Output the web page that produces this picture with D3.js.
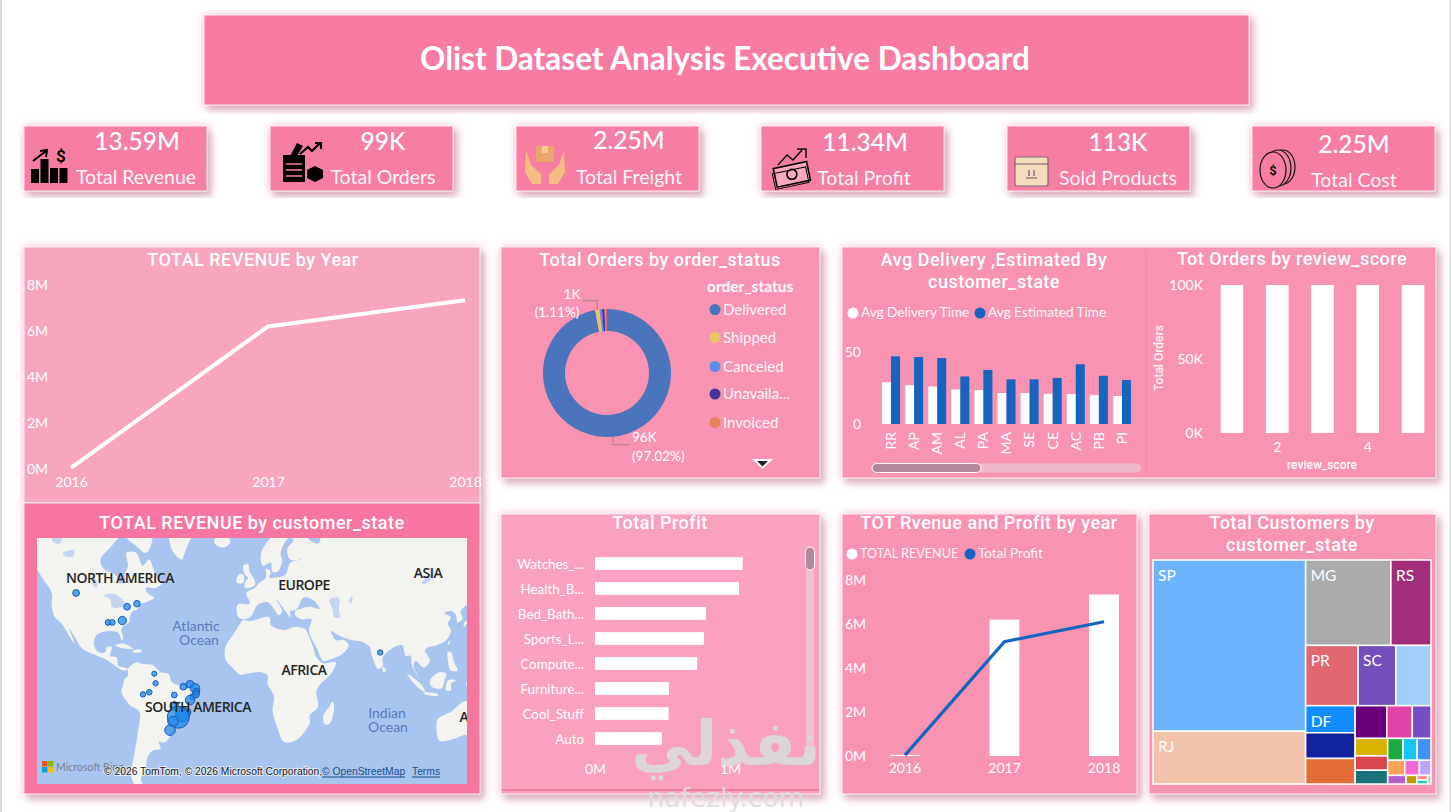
<!DOCTYPE html>
<html>
<head>
<meta charset="utf-8">
<title>Olist Dataset Analysis Executive Dashboard</title>
<script src="https://cdnjs.cloudflare.com/ajax/libs/d3/7.8.5/d3.min.js"></script>
<style>
  html, body { margin: 0; padding: 0; background: #fff; overflow: hidden; }
  svg { display: block; }
  text { font-family: "Roboto", "Noto Sans", sans-serif; fill: #fff; }
  .seg { font-family: "Lato", "Noto Sans", sans-serif; }
  .axis text { fill: #fff; font-family: "Lato", sans-serif; font-size: 14px; }
  .title { font-weight: 500; font-size: 18px; letter-spacing: 0.5px; text-anchor: middle; fill: #fff; }
</style>
</head>
<body>
<svg id="chart" width="1451" height="812"></svg>
<script>
'use strict';

// KPI cards.
var kpiValues = ['13.59M', '99K', '2.25M', '11.34M', '113K', '2.25M'];
var kpiLabels = ['Total Revenue', 'Total Orders', 'Total Freight', 'Total Profit', 'Sold Products', 'Total Cost'];

// Revenue / profit by year, in millions.
var years = ['2016', '2017', '2018'];
var revenueByYear = [0.05, 6.2, 7.34];
var profitByYear = [0.04, 5.2, 6.1];

// Orders by status.
var statusNames = ['Delivered', 'Shipped', 'Canceled', 'Unavailable', 'Invoiced', 'Processing'];
var statusOrders = [96478, 1107, 625, 609, 314, 308];
var statusColors = ['#4a74bb', '#e8c46b', '#5b8fe8', '#47339a', '#e8825a', '#d9647c'];

// Delivery times per state, in days.
var deliveryStates = ['RR', 'AP', 'AM', 'AL', 'PA', 'MA', 'SE', 'CE', 'AC', 'PB', 'PI'];
var avgDelivery = [29, 27, 26, 24, 23.5, 21.5, 21.5, 21, 20.8, 20, 19.5];
var avgEstimated = [47, 46.5, 45.8, 33, 37.5, 31, 31, 32, 41.5, 33.5, 30.5];

// Orders by review score, in thousands.
var reviewScores = [1, 2, 3, 4, 5];
var reviewOrders = [100, 100, 100, 100, 100];

// Profit by category, in millions.
var profitCategories = ['Watches_...', 'Health_B...', 'Bed_Bath...', 'Sports_L...', 'Compute...', 'Furniture...', 'Cool_Stuff', 'Auto'];
var profitValues = [1.094, 1.067, 0.822, 0.807, 0.757, 0.548, 0.545, 0.495];

// Customers per state, nested the way the treemap splits them.
var treeLeft = [['SP', 41746, '#6cb5fe'], ['RJ', 12852, '#f2c2aa']];
var treeRow1 = [['MG', 11635, '#ababab'], ['RS', 5466, '#a22e7b']];
var treeRow2 = [['PR', 5045, '#e06672'], ['SC', 3637, '#7350bc'], ['BA', 3380, '#a0cffe']];
var treeCol3 = [['DF', 2140, '#118dff'], ['ES', 2033, '#12239e'], ['GO', 2020, '#e66c37']];
var treeTop4 = [['PE', 1652, '#6b007b'], ['CE', 1336, '#e044a7'], ['PA', 975, '#744ec2']];
var treeCol5 = [['MT', 907, '#d9b300'], ['MA', 747, '#d64550'], ['MS', 715, '#197278']];
var treeRow6 = [['PB', 536, '#1aab40'], ['PI', 495, '#15c6f4'], ['RN', 485, '#4092ff']];
var treeRow7 = [['AL', 413, '#ffa058'], ['SE', 350, '#f266d6'], ['TO', 280, '#b5a6f8']];
var treeRow8 = [['RO', 253, '#b85cd0'], ['AM', 148, '#c0a000']];
var treeTiny = [['AC', 81, '#ff8a8a'], ['AP', 68, '#20d0b0']];
var treeLast = [['RR', 46, '#80e0a0']];
var treeLabels = ['SP', 'RJ', 'MG', 'RS', 'PR', 'SC', 'DF'];

// Revenue bubbles: lon, lat, revenue in millions.
var bubbleLon = [-109, -77.6, -71.5, -89.3, -86.7, -80.5, 78.4, -60.8, -60, -63.9, -67.8, -48.5, -42.9, -38.8, -35.7, -35, -35.2, -37.2, -38.8, -48.5, -40.5, -43.6, -43.2, -46, -49.3, -51.1];
var bubbleLat = [48, 42, 43.4, 34.4, 34.4, 35.4, 17.9, 5.1, -0.8, -6.3, -7.6, -8, -2.9, -1.4, -3.9, -6, -7.5, -9, -11.1, -14.6, -18.2, -19.2, -20.5, -21.2, -23.6, -28.4];
var bubbleRev = [0.12, 0.12, 0.1, 0.05, 0.05, 0.3, 0.03, 0.02, 0.03, 0.04, 0.03, 0.05, 0.12, 0.22, 0.5, 0.14, 0.16, 0.07, 0.5, 0.35, 0.2, 1.6, 1.1, 5.2, 0.65, 0.7];

// Rough coastlines in lon/lat.
var landShapes = [
  [[-168,66],[-162,70],[-156,71],[-141,70],[-128,70],[-115,68],[-108,68],[-96,68],[-94,72],[-85,69],[-82,67],[-87,64],[-94,60],[-92,57],[-85,55],[-82,52],[-79,52],[-79,55],[-77,58],[-78,62],[-72,62],[-68,58],[-64,60],[-60,55],[-56,52],[-60,50],[-66,50],[-65,48],[-61,46],[-66,44],[-70,43],[-71,41],[-74,40],[-76,37],[-76,35],[-81,31],[-80,26],[-81,25],[-83,29],[-89,30],[-94,29],[-97,27],[-98,22],[-95,18],[-91,18],[-90,21],[-87,21],[-88,16],[-84,15],[-83,10],[-80,9],[-77,8],[-80,7],[-85,10],[-91,14],[-96,16],[-105,20],[-110,27],[-113,31],[-110,23],[-115,30],[-118,34],[-122,37],[-124,42],[-124,48],[-130,54],[-135,58],[-145,60],[-152,59],[-160,55],[-165,55],[-158,59],[-165,62]],
  [[-80,73],[-68,70],[-62,66],[-66,62],[-72,64],[-78,66],[-85,70]],
  [[-44,60],[-49,62],[-52,66],[-55,72],[-40,83],[-20,80],[-22,72],[-38,66],[-42,62]],
  [[-24,65],[-22,64],[-18,63.5],[-14,65],[-16,66.5],[-22,66.5]],
  [[-5,50],[1,51],[1,53],[-2,56],[-3,58.5],[-6,58],[-5,55],[-3,54],[-5,52]],
  [[-10,52],[-6,52],[-6,55],[-9,55]],
  [[-85,22],[-80,23],[-74,20],[-78,20]],
  [[-74,19],[-69,19.5],[-68.5,18.3],[-74,18]],
  [[-77,8],[-72,12],[-68,11],[-62,10.5],[-57,6],[-52,5],[-50,0],[-44,-2.5],[-38,-4],[-35,-6],[-35,-9],[-39,-14],[-39,-18],[-41,-22],[-46,-24],[-48.5,-27],[-52,-33],[-55,-35],[-58,-34.5],[-57,-38],[-62,-39],[-65,-42],[-66,-46],[-69,-51],[-68,-54],[-72,-54],[-75,-50],[-73,-40],[-71,-30],[-70,-18],[-76,-14],[-81,-6],[-80,-2],[-79,2],[-77,4]],
  [[-6,35.5],[-2,35],[10,37],[11,33],[19,30.5],[25,32],[32,31],[34,28],[37,21],[39,15],[43,11.5],[51,12],[48,5],[41,-2],[39,-6],[40,-15],[35,-20],[35,-24],[32,-29],[26,-34],[19,-34.5],[15,-27],[12,-17],[13,-9],[9,-1],[9,4],[5,6],[-4,5],[-8,4.5],[-13,9],[-17,14],[-17,21],[-13,27],[-10,31]],
  [[49,-12],[50,-16],[47,-25],[44,-25],[43.5,-20],[47,-15]],
  [[-9,37],[-9.5,43],[-2,43.5],[-4,48],[1,50],[4,52],[8,54],[8,57],[11,56],[10,54],[14,54],[20,55],[23,59],[30,60],[23,60],[21,63],[25,65.5],[22,66],[17,62],[18,59.5],[15,56],[12,56],[11,59],[6,58],[5,62],[13,67],[25,71],[40,67],[33,66.5],[40,64.5],[44,68],[60,69],[68,68],[70,73],[80,73],[105,77],[130,71],[150,70],[150,60],[140,55],[140,48],[132,43],[128,40],[129,36],[126,34.5],[125,38],[122,40],[118,39],[122,37],[120,34],[122,30],[119,25],[113,22],[108,21],[106,19],[109,13],[105,9],[100,13],[99,9],[103,2],[100,6],[98,10],[97,16],[94,16],[92,22],[87,21],[80,15],[80,10],[77,8],[73,17],[72,21],[67,24],[61,25],[57,26],[52,28],[48,30],[51,25],[56,25],[59,22],[55,17],[45,13],[43,13],[39,21],[35,28],[34.5,31],[36,36],[30,36],[26,38],[26,40],[29,41],[35,42],[41,41],[37,45],[31,46],[28,42],[26,40.5],[23,40],[23,37],[20,40],[14,45.5],[18,40],[16,38],[12,42],[9,44],[3,43],[0,39],[-2,37],[-5,36]],
  [[95,5],[104,-2],[106,-6],[101,-3]],
  [[105,-6.5],[114,-7.5],[114,-8.5],[106,-7.5]],
  [[109,1],[115,6],[119,5],[118,1],[116,-4],[110,-3]],
  [[120,1],[125,1],[122,-1],[122,-5],[119,-5]],
  [[120,18],[122,18],[124,12],[126,7],[122,7],[120,14]],
  [[131,-1],[141,-3],[147,-6],[150,-10],[143,-9],[138,-8],[133,-4]],
  [[130,32],[132,34],[136,35],[140,36],[141,41],[145,44],[142,45],[139,38],[133,36],[130,34]],
  [[80,9.5],[82,7],[80.5,6],[79.8,8]],
  [[121,25],[121,22],[120,23]],
  [[114,-22],[122,-18],[130,-12],[136,-12],[136,-15],[140,-17],[142,-11],[146,-19],[153,-26],[150,-37],[144,-38],[138,-35],[131,-31],[124,-33],[115,-34],[113,-26]]
];
var waterShapes = [
  [[-92,47],[-85,47.5],[-80,45],[-79,43],[-83,41.5],[-87,42],[-88,45]],
  [[47,45],[53,46],[53,40],[54,37],[50,37],[49,41]],
  [[-124,66],[-118,66],[-119,64.5],[-123,65]],
  [[-117,62],[-110,62.8],[-111,61],[-116,61]],
  [[-99,53.5],[-97,53.5],[-96,50.5],[-98,50.5]],
  [[104,52],[110,55.5],[109,53],[105,51.5]],
  [[60,46],[61,46.5],[61,44],[59,44]]
];

var svg = d3.select('#chart');
var defs = svg.append('defs');

// Pink glow and a grey drop shadow behind every tile.
var glow = defs.append('filter').attr('id', 'tile')
  .attr('x', '-10%').attr('y', '-10%').attr('width', '120%').attr('height', '120%');
glow.append('feDropShadow').attr('dx', 4).attr('dy', 5).attr('stdDeviation', 3)
  .attr('flood-color', '#a8808f').attr('flood-opacity', 0.45).attr('result', 'a');
glow.append('feDropShadow').attr('in', 'a').attr('dx', 0).attr('dy', 0).attr('stdDeviation', 4)
  .attr('flood-color', '#fbb4cb').attr('flood-opacity', 0.9);

function tile(x, y, w, h, fill) {
  svg.append('rect').attr('x', x).attr('y', y).attr('width', w).attr('height', h)
    .attr('fill', fill).attr('stroke', '#fff').attr('stroke-opacity', 0.8)
    .attr('filter', 'url(#tile)');
}

function title(x, y, txt) {
  svg.append('text').attr('class', 'title').attr('x', x).attr('y', y)
    .attr('dominant-baseline', 'central').text(txt);
}

function cleanAxis(g) {
  g.select('.domain').remove();
  g.selectAll('.tick line').remove();
}

function legendDot(x, y, color, label, size) {
  svg.append('circle').attr('cx', x).attr('cy', y).attr('r', 5.5).attr('fill', color);
  svg.append('text').attr('class', 'seg').attr('x', x + 8).attr('y', y - 1)
    .attr('dominant-baseline', 'central').style('font-size', size + 'px')
    .attr('fill-opacity', 0.95).text(label);
}

// Outer frame edges of the screenshot.
svg.append('rect').attr('x', 0).attr('y', 0).attr('width', 2).attr('height', 812).attr('fill', '#d9d9d9');
svg.append('rect').attr('x', 1449).attr('y', 0).attr('width', 2).attr('height', 812).attr('fill', '#e6e6e6');

/* Header */
tile(204, 15, 1045, 90, '#f87ba2');
svg.append('text').attr('x', 725).attr('y', 58).attr('text-anchor', 'middle')
  .attr('dominant-baseline', 'central')
  .style('font-size', '31.5px').style('font-weight', 700)
  .attr('class', 'seg').text('Olist Dataset Analysis Executive Dashboard');

/* KPI cards */
var kpiX = [24, 270, 516, 761, 1007, 1252];
var kpiValueY = [140, 140, 139, 141, 141, 143];
var kpiLabelY = [176, 176, 176, 177, 177, 179];
var kpiValueX = [137, 383, 629, 865, 1118, 1354];
var kpiLabelX = [136, 383, 629, 864, 1118, 1354];
kpiX.forEach(function(x, i) {
  tile(x, 126, 183, 65, '#f77ea3');
  svg.append('text').attr('x', kpiValueX[i]).attr('y', kpiValueY[i]).attr('text-anchor', 'middle')
    .attr('dominant-baseline', 'central').attr('class', 'seg')
    .style('font-size', '24.5px').style('font-weight', 500).text(kpiValues[i]);
  svg.append('text').attr('x', kpiLabelX[i]).attr('y', kpiLabelY[i]).attr('text-anchor', 'middle')
    .attr('dominant-baseline', 'central').attr('class', 'seg')
    .style('font-size', '19.5px').attr('fill-opacity', 0.95).text(kpiLabels[i]);
});
drawIcons();

/* Revenue by year */
tile(24, 247, 456, 256, '#f8a5be');
title(253, 259, 'TOTAL REVENUE by Year');
var lineX = d3.scalePoint().domain(years).range([71, 465]);
var lineY = d3.scaleLinear().domain([0, 8]).range([469, 285]);
svg.append('g').attr('class', 'axis').attr('transform', 'translate(49,0)')
  .call(d3.axisLeft(lineY).tickValues([0, 2, 4, 6, 8]).tickSize(0).tickPadding(1)
    .tickFormat(function(d) { return d + 'M'; }))
  .call(cleanAxis);
svg.append('g').attr('class', 'axis').attr('transform', 'translate(0,477)')
  .call(d3.axisBottom(lineX).tickSize(0).tickPadding(0))
  .call(cleanAxis);
svg.append('path').datum(revenueByYear)
  .attr('fill', 'none').attr('stroke', '#fff').attr('stroke-width', 4)
  .attr('d', d3.line()
    .x(function(d, i) { return lineX(years[i]); })
    .y(function(d) { return lineY(d); }));

/* Revenue map */
tile(24, 503, 456, 291, '#f6769f');
title(252, 522, 'TOTAL REVENUE by customer_state');
defs.append('clipPath').attr('id', 'mapClip').append('rect')
  .attr('x', 37).attr('y', 538).attr('width', 430).attr('height', 246);
var map = svg.append('g').attr('clip-path', 'url(#mapClip)');
map.append('rect').attr('x', 37).attr('y', 538).attr('width', 430).attr('height', 246).attr('fill', '#a9c5ef');
var projection = d3.geoMercator().scale(93).translate([253, 682]);
var coast = d3.line()
  .x(function(d) { return projection(d)[0]; })
  .y(function(d) { return projection(d)[1]; })
  .curve(d3.curveCatmullRomClosed.alpha(0.5));
map.selectAll('path.land').data(landShapes).enter().append('path')
  .attr('class', 'land').attr('d', coast).attr('fill', '#f3f3ef');
map.selectAll('path.water').data(waterShapes).enter().append('path')
  .attr('class', 'water').attr('d', coast).attr('fill', '#c3d5f1');
var bubbleR = d3.scaleSqrt().domain([0, 5.2]).range([2, 11]);
map.selectAll('circle.bubble').data(bubbleRev).enter().append('circle')
  .attr('class', 'bubble')
  .attr('cx', function(d, i) { return projection([bubbleLon[i], bubbleLat[i]])[0]; })
  .attr('cy', function(d, i) { return projection([bubbleLon[i], bubbleLat[i]])[1]; })
  .attr('r', function(d) { return bubbleR(d); })
  .attr('fill', '#1e88ee').attr('fill-opacity', 0.75)
  .attr('stroke', '#1a5fb0').attr('stroke-width', 1);
var placeNames = [['NORTH AMERICA', 120, 577], ['EUROPE', 304, 584], ['ASIA', 428, 572], ['AFRICA', 304, 669], ['SOUTH AMERICA', 198, 706], ['A', 464, 716]];
placeNames.forEach(function(p) {
  map.append('text').attr('x', p[1]).attr('y', p[2]).attr('text-anchor', 'middle')
    .attr('dominant-baseline', 'central').style('fill', '#262626').style('font-weight', 600)
    .style('font-family', 'Open Sans').style('font-size', '14px').style('letter-spacing', '-0.5px').text(p[0]);
});
// Two-line ocean names.
var oceanNames = [['Atlantic', 'Ocean', 196, 199, 631], ['Indian', 'Ocean', 387, 388, 718]];
oceanNames.forEach(function(p) {
  var t = map.append('text').attr('class', 'seg').attr('text-anchor', 'middle')
    .style('fill', '#5d78bd').style('font-size', '14px');
  t.append('tspan').attr('x', p[2]).attr('y', p[4]).text(p[0]);
  t.append('tspan').attr('x', p[3]).attr('y', p[4] + 14).text(p[1]);
});
var msColors = ['#f25022', '#7fba00', '#00a4ef', '#ffb900'];
d3.range(4).forEach(function(i) {
  map.append('rect').attr('x', 42 + (i % 2) * 6).attr('y', 761 + (i > 1 ? 6 : 0))
    .attr('width', 5.5).attr('height', 5.5).attr('fill', msColors[i]);
});
map.append('text').attr('class', 'seg').attr('x', 56).attr('y', 767).attr('dominant-baseline', 'central')
  .style('fill', '#77808c').style('font-size', '10.5px').text('Microsoft Bing');
map.append('text').attr('x', 104).attr('y', 771).attr('dominant-baseline', 'central')
  .style('fill', '#222').style('font-size', '10.3px').style('font-family', 'Liberation Sans')
  .style('paint-order', 'stroke').style('stroke', 'rgba(255,255,255,0.6)').style('stroke-width', '2px')
  .text('© 2026 TomTom, © 2026 Microsoft Corporation, ');
map.append('text').attr('x', 322).attr('y', 771).attr('dominant-baseline', 'central')
  .style('fill', '#1c4f8c').style('font-size', '10.3px').style('font-family', 'Liberation Sans')
  .style('text-decoration', 'underline').text('© OpenStreetMap');
map.append('text').attr('x', 412).attr('y', 771).attr('dominant-baseline', 'central')
  .style('fill', '#1c4f8c').style('font-size', '10.3px').style('font-family', 'Liberation Sans')
  .style('text-decoration', 'underline').text('Terms');

/* Orders by status */
tile(501, 247, 319, 231, '#f893b2');
title(660, 259, 'Total Orders by order_status');
var donut = svg.append('g').attr('transform', 'translate(607,373)');
var pie = d3.pie().sort(null)(statusOrders);
var arc = d3.arc().innerRadius(42).outerRadius(64);
donut.selectAll('path').data(pie).enter().append('path')
  .attr('d', arc)
  .attr('fill', function(d, i) { return statusColors[i]; });
function leader(slice, dx, dy) {
  var a = (slice.startAngle + slice.endAngle) / 2;
  var px = Math.sin(a) * 64;
  var py = -Math.cos(a) * 64;
  donut.append('path').attr('fill', 'none').attr('stroke', '#a3808f').attr('stroke-width', 1)
    .attr('d', d3.line()([[px, py], [px, py + dy], [px + dx, py + dy]]));
}
leader(pie[0], 16, 8);
leader(pie[1], -15, -9);
var donutLabels = [['1K', 572, 294, 'middle'], ['(1.11%)', 557, 312, 'middle'], ['96K', 632, 437, 'start'], ['(97.02%)', 632, 456, 'start']];
donutLabels.forEach(function(p) {
  svg.append('text').attr('class', 'seg').attr('x', p[1]).attr('y', p[2]).attr('text-anchor', p[3])
    .attr('dominant-baseline', 'central').style('font-size', '13.5px').text(p[0]);
});
svg.append('text').attr('class', 'seg').attr('x', 707).attr('y', 285.5).attr('dominant-baseline', 'central')
  .style('font-size', '15.5px').style('font-weight', 700).text('order_status');
var legendY = [309.5, 337.5, 366.5, 394, 422.5];
var legendNames = ['Delivered', 'Shipped', 'Canceled', 'Unavaila...', 'Invoiced'];
legendNames.forEach(function(n, i) {
  legendDot(715, legendY[i], statusColors[i], n, 15);
});
svg.append('path').attr('d', 'M752,459L773,459L762.5,469Z').attr('fill', '#fff');
svg.append('path').attr('d', 'M757,461L768,461L762.5,466.5Z').attr('fill', '#222');

/* Delivery and review panel */
tile(842, 247, 594, 231, '#f893b2');
svg.append('line').attr('x1', 1146).attr('x2', 1146).attr('y1', 250).attr('y2', 475)
  .attr('stroke', '#f483a8').attr('stroke-width', 1);
title(994, 259, 'Avg Delivery ,Estimated By');
title(994, 281, 'customer_state');
legendDot(853, 313, '#fff', 'Avg Delivery Time', 13.6);
legendDot(980, 313, '#1565c0', 'Avg Estimated Time', 13.6);
var delX = d3.scaleBand().domain(deliveryStates).range([879.5, 1133.5]).paddingInner(0.22).paddingOuter(0.11);
var delInner = d3.scaleBand().domain([0, 1]).range([0, delX.bandwidth()]);
var delY = d3.scaleLinear().domain([0, 50]).range([424, 352]);
svg.append('g').attr('class', 'axis').attr('transform', 'translate(863,0)')
  .call(d3.axisLeft(delY).tickValues([0, 50]).tickSize(0).tickPadding(2))
  .call(cleanAxis);
svg.append('g').attr('class', 'axis').attr('transform', 'translate(0,432)')
  .call(d3.axisBottom(delX).tickSize(0).tickPadding(0))
  .call(cleanAxis)
  .selectAll('text')
  .attr('transform', 'rotate(-90)')
  .attr('text-anchor', 'end')
  .attr('x', 0).attr('y', 0).attr('dy', '0.35em');
svg.selectAll('rect.del').data(avgDelivery).enter().append('rect')
  .attr('class', 'del')
  .attr('x', function(d, i) { return delX(deliveryStates[i]) + delInner(0); })
  .attr('y', function(d) { return delY(d); })
  .attr('width', delInner.bandwidth())
  .attr('height', function(d) { return delY(0) - delY(d); })
  .attr('fill', '#fff');
svg.selectAll('rect.est').data(avgEstimated).enter().append('rect')
  .attr('class', 'est')
  .attr('x', function(d, i) { return delX(deliveryStates[i]) + delInner(1); })
  .attr('y', function(d) { return delY(d); })
  .attr('width', delInner.bandwidth())
  .attr('height', function(d) { return delY(0) - delY(d); })
  .attr('fill', '#1565c0');
svg.append('rect').attr('x', 872).attr('y', 463.5).attr('width', 269).attr('height', 9).attr('rx', 4.5)
  .attr('fill', '#efb9cb');
svg.append('rect').attr('x', 872).attr('y', 463.5).attr('width', 109).attr('height', 9).attr('rx', 4.5)
  .attr('fill', '#b4869a').attr('stroke', '#fff').attr('stroke-width', 1);

title(1292, 258, 'Tot Orders by review_score');
var revX = d3.scaleBand().domain(reviewScores).range([1198, 1447]).padding(0.5);
var revY = d3.scaleLinear().domain([0, 100]).range([433, 285]);
svg.append('g').attr('class', 'axis').attr('transform', 'translate(1204,0)')
  .call(d3.axisLeft(revY).tickValues([0, 50, 100]).tickSize(0).tickPadding(1)
    .tickFormat(function(d) { return d + 'K'; }))
  .call(cleanAxis);
svg.append('g').attr('class', 'axis').attr('transform', 'translate(0,442)')
  .call(d3.axisBottom(revX).tickValues([2, 4]).tickSize(0).tickPadding(0))
  .call(cleanAxis);
svg.selectAll('rect.rev').data(reviewOrders).enter().append('rect')
  .attr('class', 'rev')
  .attr('x', function(d, i) { return revX(reviewScores[i]); })
  .attr('y', function(d) { return revY(d); })
  .attr('width', revX.bandwidth())
  .attr('height', function(d) { return revY(0) - revY(d); })
  .attr('fill', '#fff');
svg.append('text').attr('text-anchor', 'middle').attr('dominant-baseline', 'central')
  .attr('transform', 'translate(1159,358) rotate(-90)')
  .style('font-size', '12px').style('font-weight', 500).attr('fill-opacity', 0.9).text('Total Orders');
svg.append('text').attr('x', 1322).attr('y', 465).attr('text-anchor', 'middle').attr('dominant-baseline', 'central')
  .style('font-size', '12px').style('font-weight', 500).attr('fill-opacity', 0.95).text('review_score');

/* Profit by category */
tile(501, 514, 319, 280, '#f9a1bd');
svg.append('rect').attr('x', 502).attr('y', 789).attr('width', 317).attr('height', 2).attr('fill', '#f67ea3');
title(660, 522, 'Total Profit');
var profX = d3.scaleLinear().domain([0, 1]).range([595, 730]);
var profY = d3.scaleBand().domain(profitCategories).range([551, 751]).paddingInner(0.49).paddingOuter(0.245);
svg.append('g').attr('class', 'axis').attr('transform', 'translate(0,764)')
  .call(d3.axisBottom(profX).tickValues([0, 1]).tickSize(0).tickPadding(0)
    .tickFormat(function(d) { return d + 'M'; }))
  .call(cleanAxis);
svg.append('g').attr('class', 'axis').attr('transform', 'translate(585,1)')
  .call(d3.axisLeft(profY).tickSize(0).tickPadding(1))
  .call(cleanAxis)
  .selectAll('text').style('font-size', '13.4px');
svg.selectAll('rect.prof').data(profitValues).enter().append('rect')
  .attr('class', 'prof')
  .attr('x', profX(0))
  .attr('y', function(d, i) { return profY(profitCategories[i]); })
  .attr('width', function(d) { return profX(d) - profX(0); })
  .attr('height', profY.bandwidth())
  .attr('fill', '#fff');
svg.append('rect').attr('x', 806).attr('y', 547).attr('width', 8).attr('height', 215).attr('rx', 4)
  .attr('fill', '#edc3d1');
svg.append('rect').attr('x', 805.5).attr('y', 547).attr('width', 9).attr('height', 23).attr('rx', 4.5)
  .attr('fill', '#b4869a').attr('stroke', '#fff').attr('stroke-width', 1);

/* Revenue and profit by year */
tile(842, 514, 295, 280, '#f893b2');
title(989, 522, 'TOT Rvenue and Profit by year');
legendDot(852, 554, '#fff', 'TOTAL REVENUE', 12.6);
legendDot(970, 554, '#1565c0', 'Total Profit', 13.5);
var comboX = d3.scaleBand().domain(years).range([820.4, 1188.6]).padding(0.7);
var comboY = d3.scaleLinear().domain([0, 8]).range([756, 580]);
svg.append('g').attr('class', 'axis').attr('transform', 'translate(867,0)')
  .call(d3.axisLeft(comboY).tickValues([0, 2, 4, 6, 8]).tickSize(0).tickPadding(1)
    .tickFormat(function(d) { return d + 'M'; }))
  .call(cleanAxis);
svg.append('g').attr('class', 'axis').attr('transform', 'translate(0,763)')
  .call(d3.axisBottom(comboX).tickSize(0).tickPadding(0))
  .call(cleanAxis);
svg.selectAll('rect.combo').data(revenueByYear).enter().append('rect')
  .attr('class', 'combo')
  .attr('x', function(d, i) { return comboX(years[i]); })
  .attr('y', function(d) { return comboY(d); })
  .attr('width', comboX.bandwidth())
  .attr('height', function(d) { return comboY(0) - comboY(d); })
  .attr('fill', '#fff');
svg.append('path').datum(profitByYear)
  .attr('fill', 'none').attr('stroke', '#1565c0').attr('stroke-width', 3.2)
  .attr('d', d3.line()
    .x(function(d, i) { return comboX(years[i]) + comboX.bandwidth() / 2; })
    .y(function(d) { return comboY(d); }));

/* Customers treemap */
tile(1149, 514, 287, 280, '#f893b2');
title(1292, 522, 'Total Customers by');
title(1292, 544, 'customer_state');
function leaves(rows) {
  return rows.map(function(r) { return {name: r[0], value: r[1], color: r[2]}; });
}
function group(kids) { return {children: kids}; }
var treeData = group([
  group(leaves(treeLeft)),
  group([
    group(leaves(treeRow1)),
    group(leaves(treeRow2)),
    group([
      group(leaves(treeCol3)),
      group([
        group(leaves(treeTop4)),
        group([
          group(leaves(treeCol5)),
          group([
            group(leaves(treeRow6)),
            group(leaves(treeRow7)),
            group(leaves(treeRow8).concat([group(leaves(treeTiny))]).concat(leaves(treeLast)))
          ])
        ])
      ])
    ])
  ])
]);
var treeRoot = d3.hierarchy(treeData).sum(function(d) { return d.value || 0; });
d3.treemap().tile(d3.treemapSliceDice).size([278, 224])(treeRoot);
var treeG = svg.append('g').attr('transform', 'translate(1153,560)');
var cell = treeG.selectAll('g.cell').data(treeRoot.leaves()).enter().append('g').attr('class', 'cell');
cell.append('rect')
  .attr('x', function(d) { return d.x0; })
  .attr('y', function(d) { return d.y0; })
  .attr('width', function(d) { return d.x1 - d.x0; })
  .attr('height', function(d) { return d.y1 - d.y0; })
  .attr('fill', function(d) { return d.data.color; })
  .attr('stroke', '#fff').attr('stroke-width', 1.5);
cell.filter(function(d) { return treeLabels.indexOf(d.data.name) >= 0; })
  .append('text').attr('class', 'seg')
  .attr('x', function(d) { return d.x0 + 5; })
  .attr('y', function(d) { return d.y0 + 15; })
  .attr('dominant-baseline', 'central')
  .style('font-size', '15.5px')
  .text(function(d) { return d.data.name; });

/* Watermark */
svg.append('text').attr('x', 726).attr('y', 743).attr('text-anchor', 'middle').attr('dominant-baseline', 'central')
  .style('font-family', 'DejaVu Sans').style('font-size', '62px').style('font-weight', 700)
  .style('fill', '#dadada').attr('fill-opacity', 0.92).text('نفذلي');
svg.append('text').attr('x', 726).attr('y', 797).attr('text-anchor', 'middle').attr('dominant-baseline', 'central')
  .style('font-family', 'DejaVu Sans').style('font-size', '26.5px')
  .style('fill', '#dedede').attr('fill-opacity', 0.92).text('nafezly.com');

/* Small black icons on the KPI cards */
function drawIcons() {
  var g = svg.append('g');
  // revenue: rising bars, arrow and dollar
  var barH = [14, 24, 15, 15];
  barH.forEach(function(h, i) {
    g.append('rect').attr('x', 31 + i * 9.5).attr('y', 183 - h).attr('width', 8).attr('height', h).attr('fill', '#000');
  });
  g.append('path').attr('d', 'M33,161L46,151M40,151L47,150L46,157').attr('fill', 'none').attr('stroke', '#000').attr('stroke-width', 2);
  g.append('text').attr('x', 61).attr('y', 156).attr('text-anchor', 'middle').attr('dominant-baseline', 'central')
    .style('fill', '#000').style('font-size', '17px').style('font-weight', 700).text('$');
  // orders: clipboard, pen, trend and cube
  g.append('rect').attr('x', 283).attr('y', 155).attr('width', 22).attr('height', 27).attr('fill', '#000');
  g.append('path').attr('d', 'M287,162L297,143L303,146L292,164Z').attr('fill', '#000');
  g.append('path').attr('d', 'M286,164H302M286,170H302M286,176H302').attr('stroke', '#f77ea3').attr('stroke-width', 1.5);
  g.append('path').attr('d', 'M300,154L308,147L312,151L320,143M315,143H321V149').attr('fill', 'none').attr('stroke', '#000').attr('stroke-width', 2.2);
  g.append('path').attr('d', 'M307,170L315,166L323,170V178L315,182L307,178Z').attr('fill', '#000');
  // freight: box held in two hands
  g.append('rect').attr('x', 536).attr('y', 146).attr('width', 18).attr('height', 16).attr('fill', '#eaa66a');
  g.append('path').attr('d', 'M542,146V153H548V146').attr('fill', '#f7c98f');
  g.append('path').attr('d', 'M526,150L531,165L541,174V184H532L525,172Z').attr('fill', '#f6bd82');
  g.append('path').attr('d', 'M564,150L559,165L549,174V184H558L565,172Z').attr('fill', '#f6bd82');
  // profit: tilted banknote and arrow
  var note = g.append('g').attr('transform', 'rotate(-12,791,175)');
  note.append('rect').attr('x', 775).attr('y', 165).attr('width', 34).attr('height', 19).attr('fill', '#f9a8c0').attr('stroke', '#000').attr('stroke-width', 1.6);
  note.append('circle').attr('cx', 792).attr('cy', 174.5).attr('r', 5).attr('fill', 'none').attr('stroke', '#000').attr('stroke-width', 1.6);
  note.append('rect').attr('x', 773).attr('y', 170).attr('width', 34).attr('height', 16).attr('fill', 'none').attr('stroke', '#000').attr('stroke-width', 1);
  g.append('path').attr('d', 'M778,165L787,155L793,160L802,150M797,149H806V158').attr('fill', 'none').attr('stroke', '#111').attr('stroke-width', 1.5);
  // sold products: cardboard box
  g.append('rect').attr('x', 1015).attr('y', 157).attr('width', 33).attr('height', 29).attr('rx', 2).attr('fill', '#f4dcbc').attr('stroke', '#7d6a80').attr('stroke-width', 1.2);
  g.append('path').attr('d', 'M1015,164H1048M1026,178H1037M1029,176V170M1034,176V170').attr('fill', 'none').attr('stroke', '#6b5a70').attr('stroke-width', 1.2);
  // cost: stack of coins
  [[1283, 167, 12, 17], [1278, 168, 13, 18], [1273, 170, 13, 18]].forEach(function(c) {
    g.append('ellipse').attr('cx', c[0]).attr('cy', c[1]).attr('rx', c[2]).attr('ry', c[3])
      .attr('fill', '#f77ea3').attr('stroke', '#111').attr('stroke-width', 1.2);
  });
  g.append('text').attr('x', 1273).attr('y', 170).attr('text-anchor', 'middle').attr('dominant-baseline', 'central')
    .style('fill', '#111').style('font-size', '13px').style('font-weight', 700).text('$');
}
</script>
</body>
</html>
